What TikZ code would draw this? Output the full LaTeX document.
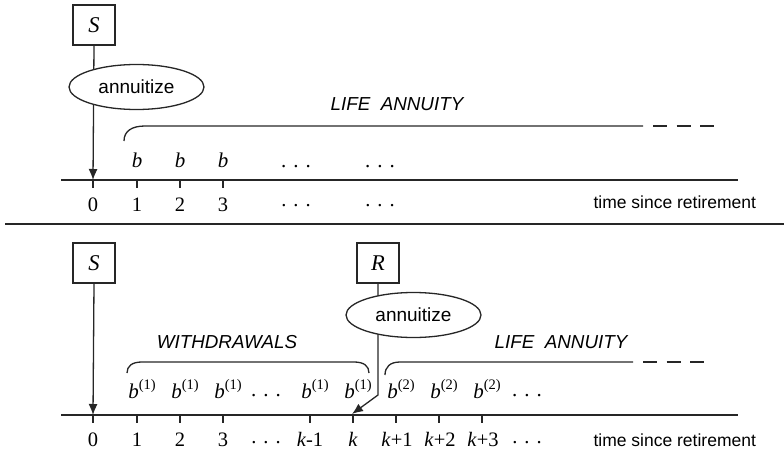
\documentclass[tikz,border=0pt]{standalone}
\usepackage{fontspec}
\setmainfont{Liberation Serif}
\setsansfont{Liberation Sans}
\usetikzlibrary{arrows.meta,shapes.geometric}

\tikzset{
  line/.style={line width=1.3pt, draw=black!85},
  amount/.style={draw=black!85, line width=1.3pt, minimum width=42pt, minimum height=40pt,
    inner sep=0pt, font=\fontsize{22.5}{22.5}\selectfont\itshape},
  choice/.style={draw=black!85, ellipse, fill=white, line width=1.3pt, minimum width=135pt,
    minimum height=45pt, inner sep=0pt, font=\sffamily\fontsize{19}{19}\selectfont},
  phase/.style={font=\sffamily\itshape\fontsize{18.8}{19}\selectfont},
  ticklab/.style={font=\fontsize{20.5}{20.5}\selectfont, anchor=base},
  pay/.style={font=\fontsize{21}{21}\selectfont, anchor=base},
  axislab/.style={font=\sffamily\fontsize{17.5}{18}\selectfont, anchor=base west},
  arr/.style={line width=1.3pt, draw=black!85, -{Latex[length=11pt,width=9pt]}},
}
\newcommand{\gap}{{.}\hspace{7pt}{.}\hspace{7pt}{.}}
\newcommand{\bb}[1]{\textit{b}\raisebox{8.5pt}{\fontsize{14.5}{14.5}\selectfont(#1)}}

\begin{document}
\begin{tikzpicture}[x=1pt,y=-1pt]
\useasboundingbox (0,0) rectangle (784,452);

% ---------- upper panel: annuitize at once ----------
\coordinate (axAL) at (61,180);
\coordinate (axAR) at (738,180);
\draw[line] (axAL) -- (axAR);

\node[amount] (SA) at (94,25) {S};
\coordinate (t0A) at (93,180);
\draw[arr] (SA.south) -- (t0A);
\node[choice] (annA) at (136.5,87) {annuitize};

\foreach \x in {93,137,180,223} \draw[line] (\x,180) -- (\x,188);

\node[ticklab] (a0) at (93,211) {0};
\node[ticklab] (a1) at (137,211) {1};
\node[ticklab] (a2) at (180,211) {2};
\node[ticklab] (a3) at (223,211) {3};
\node[ticklab] (ad1) at (296,206) {\gap};
\node[ticklab] (ad2) at (380,206) {\gap};
\node[axislab] (axtA) at (590,208) {time since retirement};

\node[pay] (pb1) at (137,167) {\textit{b}};
\node[pay] (pb2) at (180,167) {\textit{b}};
\node[pay] (pb3) at (223,167) {\textit{b}};
\node[pay] (pd1) at (296,167) {\gap};
\node[pay] (pd2) at (380,167) {\gap};

% brace of the life annuity, open to the right
\draw[line] (124,141) .. controls (124,131) and (132,126) .. (145,126) -- (643,126);
\draw[line, dash pattern=on 14pt off 9.5pt] (653,126) -- (714,126);
\node[phase] (laA) at (397,104) {LIFE\ \ ANNUITY};

% separator
\draw[line] (5,224) -- (784,224);

% ---------- lower panel: withdrawals, then annuitize ----------
\coordinate (axBL) at (61,415);
\coordinate (axBR) at (738,415);
\draw[line] (axBL) -- (axBR);

\node[amount] (SB) at (94,263) {S};
\coordinate (t0B) at (93,415);
\draw[arr] (SB.south) -- (t0B);

\node[amount] (RB) at (378,263) {R};
\coordinate (bend) at (378,395);
\coordinate (tk) at (352,414);
\draw[arr] (RB.south) -- (bend) -- (tk);
\node[choice] (annB) at (413.5,315) {annuitize};

\foreach \x in {93,137,180,223,310,353,396,439,482} \draw[line] (\x,415) -- (\x,423);

\node[ticklab] (b0) at (93,446) {0};
\node[ticklab] (b1) at (137,446) {1};
\node[ticklab] (b2) at (180,446) {2};
\node[ticklab] (b3) at (223,446) {3};
\node[ticklab] (bd1) at (266,443) {\gap};
\node[ticklab] (bkm) at (310,446) {\textit{k}-1};
\node[ticklab] (bk) at (353,446) {\textit{k}};
\node[ticklab] (bk1) at (397,446) {\textit{k}+1};
\node[ticklab] (bk2) at (440,446) {\textit{k}+2};
\node[ticklab] (bk3) at (483,446) {\textit{k}+3};
\node[ticklab] (bd2) at (527,443) {\gap};
\node[axislab] (axtB) at (590,446) {time since retirement};

\node[pay] (w1) at (142,398) {\bb{1}};
\node[pay] (w2) at (185,398) {\bb{1}};
\node[pay] (w3) at (228,398) {\bb{1}};
\node[pay] (wd) at (266,396) {\gap};
\node[pay] (w4) at (315,398) {\bb{1}};
\node[pay] (w5) at (358,398) {\bb{1}};
\node[pay] (l1) at (401,398) {\bb{2}};
\node[pay] (l2) at (444,398) {\bb{2}};
\node[pay] (l3) at (487,398) {\bb{2}};
\node[pay] (ld) at (527,396) {\gap};

% brace of the withdrawals, closed at both ends
\draw[line] (127,373) .. controls (127,366) and (132,362) .. (142,362)
  -- (354,362) .. controls (364,362) and (369,366) .. (369,373);
\node[phase] (wdB) at (227,342) {WITHDRAWALS};

% brace of the life annuity, open to the right
\draw[line] (385,375) .. controls (385,367) and (390,362) .. (400,362) -- (633,362);
\draw[line, dash pattern=on 14pt off 9.5pt] (643,362) -- (704,362);
\node[phase] (laB) at (561,342) {LIFE\ \ ANNUITY};
\end{tikzpicture}
\end{document}
